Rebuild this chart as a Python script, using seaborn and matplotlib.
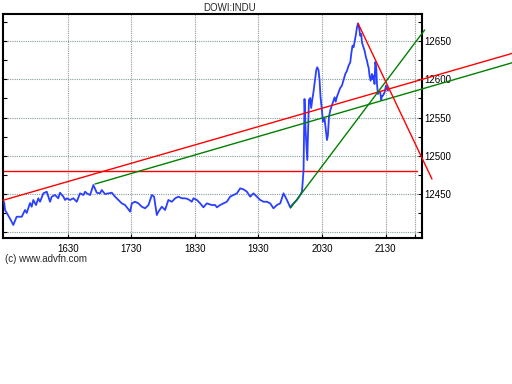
import matplotlib
matplotlib.use("Agg")
import matplotlib.pyplot as plt
import seaborn as sns
import pandas as pd
from matplotlib.ticker import MultipleLocator

# time in minutes after 15:00, index price
minutes = [30, 30.8, 33.6, 37.1, 38.6, 41.8, 46.6, 49.7, 51.3, 54.4, 56.0, 57.5, 60.1, 62.2, 63.9,
           67.0, 70.2, 73.3, 74.9, 78.0, 81.1, 82.7, 85.9, 87.5, 89.1, 92.2, 95.3, 98.5, 101.6,
           104.8, 106.4, 108.0, 111.1, 114.2, 117.4, 120.5, 122.1, 125.2, 128.4, 131.6, 134.7,
           137.8, 141.0, 144.1, 147.3, 148.9, 150.5, 153.6, 156.7, 159.9, 163.0, 166.2, 169.4,
           171.5, 174.1, 175.6, 178.8, 181.9, 185.0, 188.3, 191.4, 194.5, 197.7, 200.8, 203.9,
           207.1, 208.7, 211.9, 215.0, 218.1, 221.3, 226.0, 229.2, 230.8, 233.9, 237.0, 240.2,
           243.3, 246.4, 249.7, 252.8, 255.9, 259.1, 262.2, 265.3, 268.5, 271.7, 274.8, 278.0,
           281.1, 284.2, 287.4, 290.6, 293.7, 296.9, 300.0, 303.1, 306.3, 309.4, 311.1,
           312.6, 313.5, 314.5, 316.1, 317.7, 318.9, 319.8, 320.8, 322.0, 323.0, 324.6, 325.5,
           326.7, 327.7, 328.6, 329.9, 330.9, 332.4, 333.3, 334.7, 335.6, 336.6, 337.9, 341.0,
           341.9, 342.9,
           344.1, 345.6, 347.2, 348.8, 350.4, 352.0, 353.6, 355.1, 356.7, 357.6, 358.8, 359.8,
           360.7, 362.1, 363.0, 364.0, 365.2, 366.1, 367.1, 367.7, 369.2, 370.2, 371.5, 372.5,
           373.4, 374.0, 374.9, 375.9, 377.2, 377.7, 378.7, 379.6, 380.3, 381.2, 381.9, 382.8,
           383.4, 385.0, 385.9, 386.6, 387.5, 389.1, 390.4, 391.3, 392.3]
prices = [12439.5, 12429.1, 12422.5, 12413.8, 12409.5, 12420.3, 12420.3, 12429.1, 12425.2, 12438.2,
          12433.4, 12442.2, 12435.6, 12444.4, 12439.9, 12450.9, 12453.0, 12439.9, 12446.5, 12448.7,
          12444.4, 12451.7, 12446.5, 12442.2, 12444.4, 12442.2, 12444.4, 12439.9, 12450.9, 12448.7,
          12453.0, 12450.9, 12448.7, 12461.8, 12451.7, 12450.9, 12455.2, 12450.0, 12450.9, 12451.7,
          12446.5, 12442.2, 12437.8, 12435.6, 12430.0, 12426.9, 12437.8, 12439.9, 12437.8, 12433.4,
          12431.3, 12435.6, 12448.7, 12446.5, 12422.5, 12426.9, 12433.4, 12429.1, 12442.2, 12439.9,
          12444.4, 12446.5, 12444.4, 12444.4, 12443.1, 12439.9, 12444.4, 12442.2, 12437.8, 12432.6,
          12437.8, 12435.6, 12435.6, 12432.6, 12435.6, 12437.8, 12439.9, 12446.5, 12448.7, 12450.9,
          12457.4, 12456.1, 12453.0, 12446.5, 12450.9, 12446.5, 12442.2, 12439.9, 12439.9, 12437.8,
          12431.3, 12435.6, 12437.8, 12450.9, 12442.2, 12432.6, 12437.8, 12442.2, 12448.7, 12453.0,
          12481.4, 12574.2, 12533.7, 12494.4, 12572.9, 12575.5, 12562.4, 12572.9, 12583.7, 12594.7,
          12612.1, 12615.6, 12612.1, 12599.0, 12577.2, 12559.8, 12544.5, 12549.0, 12537.6, 12520.6,
          12527.1, 12551.0, 12559.8, 12572.9, 12576.4, 12570.7,
          12577.2, 12582.9, 12588.6, 12591.6, 12599.0,
          12606.9, 12611.2, 12617.7, 12622.2, 12633.0, 12643.9, 12641.8, 12648.3, 12659.2, 12667.9,
          12672.9, 12665.7, 12656.9, 12659.2, 12648.3, 12641.8, 12637.3, 12628.7, 12624.2, 12617.7,
          12615.6, 12604.6, 12598.1, 12606.9, 12600.3, 12604.6, 12593.8, 12622.5, 12616.0, 12593.8,
          12580.7, 12582.9, 12582.9, 12572.9, 12578.1, 12578.5, 12582.9, 12591.6, 12589.5, 12585.0]

# drawn trend lines (minutes, price)
red_trend_x = [28.9, 520.0]
red_trend_y = [12441.8, 12638.0]
green_trend_x = [115.8, 520.0]
green_trend_y = [12463.1, 12625.8]
green_steep_x = [300.3, 426.9]
green_steep_y = [12431.7, 12664.4]
red_steep_x = [364.0, 433.8]
red_steep_y = [12673.1, 12469.6]
ref_line_x = [28.9, 420.0]
ref_line_y = [12480.0, 12480.0]

x_ticks = [90, 150, 210, 270, 330, 390, 418]
x_labels = ["1630", "1730", "1830", "1930", "2030", "2130", ""]
y_ticks = [12400, 12450, 12500, 12550, 12600, 12650]
y_labels = ["", "12450", "12500", "12550", "12600", "12650"]

sns.set_theme(style="white")
plt.rcParams['font.family'] = ['Liberation Sans', 'DejaVu Sans']

fig = plt.figure(figsize=(5.12, 3.84), dpi=100)
ax = fig.add_axes([3/512, 1-238/384, 419/512, 224/384])

df = pd.DataFrame({"minute": minutes, "price": prices})
sns.lineplot(data=df, x="minute", y="price", ax=ax, color="#2a40ff", lw=1.3,
             estimator=None, sort=False, zorder=3)

ax.plot(ref_line_x, ref_line_y, color="#ff0000", lw=1.0, zorder=2)
ax.plot(red_trend_x, red_trend_y, color="#ff0000", lw=1.0, clip_on=False, zorder=4)
ax.plot(green_trend_x, green_trend_y, color="#008000", lw=1.0, clip_on=False, zorder=4)
ax.plot(green_steep_x, green_steep_y, color="#008000", lw=1.0, clip_on=False, zorder=4)
ax.plot(red_steep_x, red_steep_y, color="#ff0000", lw=1.0, clip_on=False, zorder=4)

ax.set_xlim(28.9, 424.4)
ax.set_ylim(12392.5, 12685.3)
ax.set_xticks(x_ticks)
ax.set_xticklabels(x_labels)
ax.set_yticks(y_ticks)
ax.set_yticklabels(y_labels)
ax.yaxis.set_minor_locator(MultipleLocator(25))
ax.set_xlabel("")
ax.set_ylabel("")

ax.tick_params(axis="both", which="both", direction="in", length=3, width=0.8,
               colors="black", labelsize=7)
ax.tick_params(axis="y", which="both", left=True, right=True, labelleft=False,
               labelright=True, pad=2)
ax.tick_params(axis="x", which="both", bottom=True, top=False, pad=4)

ax.grid(True, which="major", color="#8a9c9c", linestyle=(0, (1, 1)), lw=0.8)
ax.set_axisbelow(True)
for s in ax.spines.values():
    s.set_color("black")
    s.set_linewidth(1.5)

fig.text(230/512, 1-8/384, "DOWI:INDU", ha="center", va="center", fontsize=7)
fig.text(5/512, 1-259/384, "(c) www.advfn.com", ha="left", va="center", fontsize=7)

fig.savefig("out.png", dpi=100)
